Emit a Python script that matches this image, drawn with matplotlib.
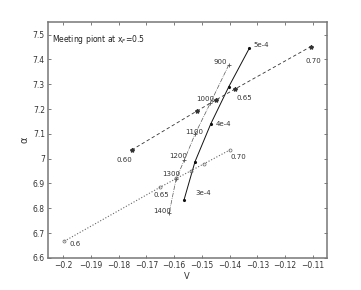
import matplotlib
matplotlib.use("Agg")
import matplotlib.pyplot as plt

# solid line: current labels 3e-4 .. 5e-4
cur_v = [-0.1564, -0.1525, -0.1468, -0.1403, -0.1329]
cur_a = [6.835, 6.987, 7.140, 7.290, 7.445]

# dashed line (asterisks): 0.60 .. 0.70
dsh_v = [-0.1753, -0.1518, -0.1449, -0.1380, -0.1107]
dsh_a = [7.035, 7.192, 7.237, 7.281, 7.452]

# dash-dot line (+): 900 .. 1400
dd_v = [-0.1403, -0.1470, -0.1525, -0.1563, -0.1593, -0.1618]
dd_a = [7.378, 7.223, 7.098, 6.995, 6.918, 6.780]

# dotted line (o): 0.6 .. 0.70
dot_v = [-0.1996, -0.1650, -0.1592, -0.1538, -0.1491, -0.1399]
dot_a = [6.667, 6.885, 6.920, 6.952, 6.980, 7.035]

labels = [
    ("5e-4", -0.1315, 7.458), ("4e-4", -0.1452, 7.140), ("3e-4", -0.1522, 6.860),
    ("900", -0.1459, 7.391), ("1000", -0.1521, 7.240), ("1100", -0.1561, 7.109),
    ("1200", -0.1618, 7.012), ("1300", -0.1643, 6.937), ("1400", -0.1676, 6.790),
    ("0.60", -0.1807, 6.995), ("0.65", -0.1374, 7.246), ("0.70", -0.1126, 7.394),
    ("0.70", -0.1398, 7.008), ("0.65", -0.1673, 6.854), ("0.6", -0.1976, 6.656),
]

fig = plt.figure(figsize=(3.61, 2.90), dpi=100)
ax = fig.add_axes([0.132, 0.111, 0.773, 0.814])

ax.plot(cur_v, cur_a, '-', color='#111111', lw=0.7, marker='.', ms=2.5)
ax.plot(dsh_v, dsh_a, '--', color='#333333', lw=0.6, marker='*', ms=3, dashes=(4, 3))
ax.plot(dd_v, dd_a, '-.', color='#555555', lw=0.5, marker='+', ms=3, mew=0.6)
ax.plot(dot_v, dot_a, ':', color='#666666', lw=0.8, marker='o', ms=2.2,
        mfc='none', mew=0.5)

for txt, x, y in labels:
    ax.text(x, y, txt, fontsize=5, va='center', ha='left', color='#333333')

ax.text(-0.2039, 7.48, "Meeting piont at x$_F$=0.5", fontsize=5.5, va='center',
        ha='left', color='#222222')

ax.set_xlim(-0.2056, -0.105)
ax.set_ylim(6.6, 7.552)
ax.set_xticks([-0.2, -0.19, -0.18, -0.17, -0.16, -0.15, -0.14, -0.13, -0.12, -0.11])
ax.set_xticklabels(['\u22120.2', '\u22120.19', '\u22120.18', '\u22120.17', '\u22120.16',
                    '\u22120.15', '\u22120.14', '\u22120.13', '\u22120.12', '\u22120.11'])
ax.set_yticks([6.6, 6.7, 6.8, 6.9, 7.0, 7.1, 7.2, 7.3, 7.4, 7.5])
ax.set_yticklabels(['6.6', '6.7', '6.8', '6.9', '7', '7.1', '7.2', '7.3', '7.4', '7.5'])
ax.tick_params(direction='in', top=True, right=True, labelsize=5.5, length=2.5,
               width=0.6, colors='#666666', labelcolor='#333333', pad=2)
for s in ax.spines.values():
    s.set_color('#777777')
    s.set_linewidth(1.1)

ax.set_xlabel("V", fontsize=6, labelpad=2, color='#333333')
ax.set_ylabel("\u03b1", fontsize=7, labelpad=2, color='#333333')

fig.savefig("out.png", dpi=100)
